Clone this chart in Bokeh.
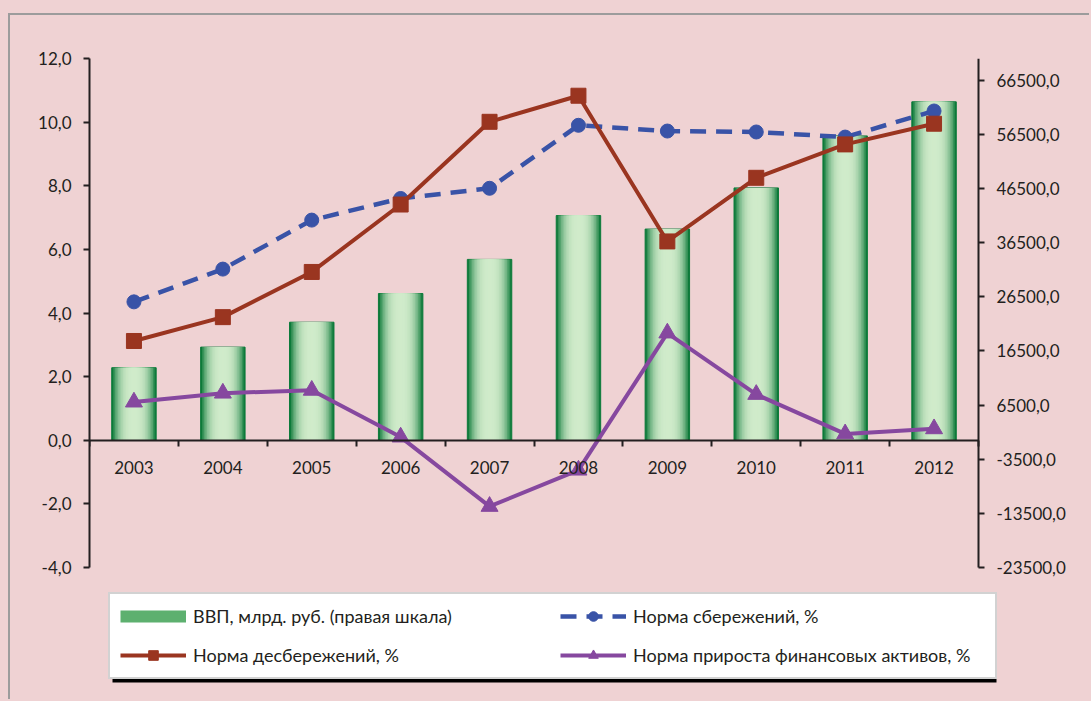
from bokeh.plotting import figure
from bokeh.models import (Range1d, LinearAxis, FixedTicker, Legend, LegendItem,
                          BoxAnnotation)
from bokeh.embed import file_html
from bokeh.resources import INLINE

# ---- data ----
years = ["2003", "2004", "2005", "2006", "2007", "2008", "2009", "2010", "2011", "2012"]
gdp = [13400, 17200, 21800, 27100, 33400, 41500, 39000, 46600, 56200, 62500]
savings = [4.35, 5.38, 6.92, 7.60, 7.92, 9.90, 9.72, 9.69, 9.53, 10.35]
dissavings = [3.12, 3.87, 5.29, 7.41, 10.01, 10.83, 6.25, 8.25, 9.30, 9.95]
fin_assets = [1.20, 1.48, 1.57, 0.10, -2.08, -0.94, 3.37, 1.44, 0.20, 0.36]
left_ticks = [-4, -2, 0, 2, 4, 6, 8, 10, 12]
right_ticks = [-23500, -13500, -3500, 6500, 16500, 26500, 36500, 46500, 56500, 66500]
left_lim = (-4, 12)
right_lim = (-23500, 70500)

labels = {
    "gdp": "ВВП, млрд. руб. (правая шкала)",
    "sav": "Норма сбережений, %",
    "dis": "Норма десбережений, %",
    "fin": "Норма прироста финансовых активов, %",
}

PINK = "#EFD2D3"
AXIS = "#231F20"
BLUE = "#3953A7"
RED = "#9A3520"
PURPLE = "#86489F"
FONT = "Lato"

# layout (pixels, canvas coordinates)
W, H = 1081, 686
FRAME_LEFT, FRAME_TOP = 79, 43
AXIS_PX = 509                      # height of the -4..12 span
CAT_PX = 889                       # width of the 10 categories
EXTRA_Y = H - FRAME_TOP - AXIS_PX  # frame continues below -4 to hold the legend
EXTRA_X = W - FRAME_LEFT - CAT_PX  # and past the right axis

def extend_down(lo, hi):
    return lo - (hi - lo) * EXTRA_Y / AXIS_PX

n = len(years)
xs = [i + 0.5 for i in range(n)]

p = figure(width=W, height=H, x_range=Range1d(0, n + n * EXTRA_X / CAT_PX),
           y_range=Range1d(extend_down(*left_lim), left_lim[1]),
           output_backend="svg", toolbar_location=None, x_axis_location=None,
           min_border_left=FRAME_LEFT, min_border_right=0, min_border_top=FRAME_TOP,
           min_border_bottom=0,
           background_fill_color=PINK, border_fill_color=PINK, outline_line_color=None)
p.styles = {"margin-left": "8px", "margin-top": "13px",
            "border-top": "2px solid #9C9C9C", "border-left": "2px solid #9C9C9C"}
p.xgrid.visible = False
p.ygrid.visible = False
p.extra_y_ranges = {"gdp": Range1d(extend_down(*right_lim), right_lim[1])}

# left axis
ya = p.yaxis[0]
ya.ticker = FixedTicker(ticks=left_ticks)
ya.bounds = left_lim
ya.major_label_overrides = {v: f"{v:.1f}".replace(".", ",") for v in left_ticks}

# right axis, standing at the end of the last category
ra = LinearAxis(y_range_name="gdp", ticker=FixedTicker(ticks=right_ticks), bounds=right_lim,
                major_label_overrides={v: f"{v},0" for v in right_ticks})
ra.fixed_location = n
p.add_layout(ra, "right")

# x axes at y = 0: one with boundary ticks, one with year labels
xt = LinearAxis(ticker=FixedTicker(ticks=list(range(n + 1))), bounds=(0, n),
                major_label_overrides={i: "" for i in range(n + 1)})
xl = LinearAxis(ticker=FixedTicker(ticks=xs),
                major_label_overrides={x: y for x, y in zip(xs, years)})
for ax in (xt, xl):
    ax.fixed_location = 0
    p.add_layout(ax, "below")
xl.axis_line_color = None
xl.major_tick_line_color = None
xl.major_label_standoff = 15

for ax in (ya, ra, xt, xl):
    ax.minor_tick_line_color = None
    ax.major_label_text_font = FONT
    ax.major_label_text_font_size = "17px"
    ax.major_label_text_color = AXIS
for ax in (ya, ra, xt):
    ax.axis_line_color = AXIS
    ax.axis_line_width = 2
    ax.major_tick_line_color = AXIS
    ax.major_tick_line_width = 2
    ax.major_tick_in = 0
    ax.major_tick_out = 6
ya.major_label_standoff = 12
ra.major_label_standoff = 12

# bars with a simulated horizontal gradient (layered, narrowing bars)
dark = (14, 122, 58)
light = (208, 235, 202)
N = 14
for k in range(N):
    frac = 1 - k / N
    t = frac ** 3
    c = tuple(int(round(light[j] + (dark[j] - light[j]) * t)) for j in range(3))
    col = "#%02x%02x%02x" % c
    p.vbar(x=xs, top=gdp, bottom=0, width=0.5 * frac, y_range_name="gdp",
           fill_color=col, line_color="#0C7A3A" if k == 0 else None, line_width=1)
# legend swatch for the bars (a single undefined point, nothing drawn in the plot)
nan = float("nan")
bar_key = p.line(x=[nan], y=[nan], line_color="#5DB06F", line_width=12)

sl = p.line(xs, savings, line_color=BLUE, line_width=4.5, line_dash="16 10")
ss = p.scatter(xs, savings, marker="circle", size=14, fill_color=BLUE, line_color=BLUE)
dl = p.line(xs, dissavings, line_color=RED, line_width=4)
ds = p.scatter(xs, dissavings, marker="square", size=15, fill_color=RED, line_color=RED)
fl = p.line(xs, fin_assets, line_color=PURPLE, line_width=4)
fs = p.scatter(xs, fin_assets, marker="triangle", size=17, fill_color=PURPLE, line_color=PURPLE)

# legend (frame-relative screen position) and its shadow
PAD, GW, GH, LW, SP, STAND = 10, 66, 24, 352, 15, 7
LEG_W = 2 * PAD + 2 * (GW + STAND + LW) + SP
LEG_H = 2 * PAD + 2 * GH + SP
LEG_X, LEG_Y = 19, 22
shadow = BoxAnnotation(left=LEG_X + 4, right=LEG_X + LEG_W + 3,
                       bottom=LEG_Y - 3, top=LEG_Y + LEG_H - 4,
                       left_units="screen", right_units="screen",
                       bottom_units="screen", top_units="screen",
                       fill_color="black", fill_alpha=1, line_color=None)
p.add_layout(shadow)

legend = Legend(items=[
    LegendItem(label=labels["gdp"], renderers=[bar_key]),
    LegendItem(label=labels["sav"], renderers=[sl, ss]),
    LegendItem(label=labels["dis"], renderers=[dl, ds]),
    LegendItem(label=labels["fin"], renderers=[fl, fs]),
], location=(LEG_X, LEG_Y), orientation="horizontal", ncols=2)
legend.label_text_font = FONT
legend.label_text_font_size = "18px"
legend.label_text_color = AXIS
legend.glyph_width = GW
legend.glyph_height = GH
legend.label_height = GH
legend.label_width = LW
legend.label_standoff = STAND
legend.spacing = SP
legend.padding = PAD
legend.margin = 0
legend.border_line_color = "#A6A6A6"
legend.border_line_width = 2
legend.background_fill_color = "white"
legend.background_fill_alpha = 1
p.add_layout(legend, "center")

html = file_html(p, INLINE)
html = html.replace("<head>", "<head><style>body{background:%s;}</style>" % PINK, 1)
open("out.html", "w").write(html)
